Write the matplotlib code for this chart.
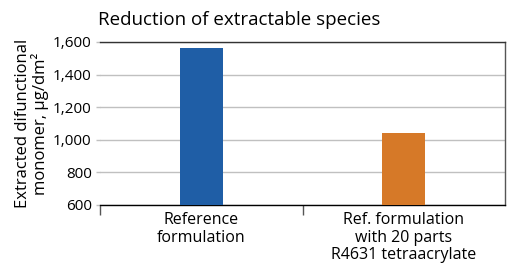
import matplotlib.pyplot as plt
import numpy as np

plt.rcParams['font.family'] = ['Open Sans', 'DejaVu Sans']

categories = ['Reference\nformulation', 'Ref. formulation\nwith 20 parts\nR4631 tetraacrylate']
values = [1563, 1042]
colors = ['#1f5ea6', '#d67928']
yticks = [600, 800, 1000, 1200, 1400, 1600]

fig = plt.figure(figsize=(5.08, 2.66), dpi=100)
ax = fig.add_axes([100/508, 1-205/266, 405/508, 163/266])

x = np.arange(len(categories))
ax.bar(x, np.array(values) - 600, bottom=600, width=0.21, color=colors, zorder=3)

ax.set_xlim(-0.5, 1.5)
ax.set_ylim(600, 1600)
ax.set_yticks(yticks)
ax.set_yticklabels([f'{v:,}' for v in yticks], fontsize=11)
ax.yaxis.grid(True, color='#c0c0c0', linewidth=1, zorder=0)
ax.tick_params(axis='y', length=3, width=1, color='#c0c0c0', pad=3)

ax.set_xticks([-0.5, 0.5])
ax.set_xticklabels([])
ax.tick_params(axis='x', length=7, width=1, color='#555555')
for xi, lab in zip(x, categories):
    ax.text(xi, 555, lab, ha='center', va='top', fontsize=11.5, linespacing=1.1,
            transform=ax.transData)

ax.spines['left'].set_visible(False)
ax.spines['top'].set_color('#333333')
ax.spines['right'].set_color('#555555')
ax.spines['bottom'].set_color('#000000')
for s in ax.spines.values():
    s.set_linewidth(1)

ax.set_ylabel('Extracted difunctional\nmonomer, µg/dm²', fontsize=12, linespacing=1.0, labelpad=3)
fig.text(98/508, 1-20/266, 'Reduction of extractable species', fontsize=13.5, va='center', ha='left')

fig.savefig('out.png', dpi=100)
